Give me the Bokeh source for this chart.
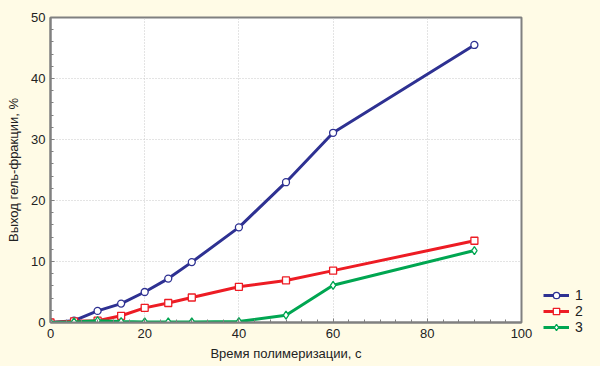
from bokeh.plotting import figure
from bokeh.models import (Range1d, Legend, LegendItem, FixedTicker,
                          GlobalInlineStyleSheet)
from bokeh.embed import file_html
from bokeh.resources import INLINE

# Data
time_s = [0, 5, 10, 15, 20, 25, 30, 40, 50, 60, 90]
yield1 = [0.0, 0.3, 1.9, 3.1, 5.0, 7.2, 9.9, 15.6, 23.0, 31.1, 45.5]
yield2 = [0.0, 0.2, 0.3, 1.1, 2.4, 3.2, 4.1, 5.85, 6.9, 8.5, 13.4]
yield3 = [0.0, 0.1, 0.3, 0.15, 0.1, 0.1, 0.1, 0.15, 1.2, 6.1, 11.8]
series_labels = ["1", "2", "3"]
x_ticks = [0, 20, 40, 60, 80, 100]
y_ticks = [0, 10, 20, 30, 40, 50]
x_minor = [i * 20 / 6 for i in range(31)]
y_minor = list(range(0, 51, 2))

CREAM = "#FFFBE6"
BLUE = "#2E3192"
RED = "#ED1C24"
GREEN = "#00A651"
AXIS = "#808080"
TEXT = "#222222"
FONT = "Liberation Sans"

p = figure(frame_width=471, frame_height=305, output_backend="svg",
           toolbar_location=None,
           x_range=Range1d(0, 100), y_range=Range1d(0, 50),
           min_border_left=50, min_border_right=79, min_border_top=17,
           min_border_bottom=44)
p.border_fill_color = CREAM
p.background_fill_color = "white"
p.outline_line_color = AXIS
p.outline_line_width = 2

for ax, ticks, minor in ((p.xaxis[0], x_ticks, x_minor), (p.yaxis[0], y_ticks, y_minor)):
    ax.ticker = FixedTicker(ticks=ticks, minor_ticks=minor)
    ax.axis_line_color = AXIS
    ax.axis_line_width = 2
    ax.major_tick_in = 4
    ax.major_tick_out = 0
    ax.minor_tick_in = 3
    ax.minor_tick_out = 0
    ax.major_tick_line_color = AXIS
    ax.minor_tick_line_color = AXIS
    ax.major_label_text_font = FONT
    ax.major_label_text_font_size = "13px"
    ax.major_label_text_color = TEXT
    ax.axis_label_text_font = FONT
    ax.axis_label_text_font_size = "13px"
    ax.axis_label_text_font_style = "normal"
    ax.axis_label_text_color = TEXT

p.xaxis[0].axis_label = "Время полимеризации, с"
p.yaxis[0].axis_label = "Выход гель-фракции, %"
p.xaxis[0].major_label_standoff = 6
p.xaxis[0].axis_label_standoff = 5
p.yaxis[0].major_label_standoff = 5
p.yaxis[0].axis_label_standoff = 7

p.xgrid.ticker = FixedTicker(ticks=x_ticks)
p.ygrid.ticker = FixedTicker(ticks=y_ticks)
for g in (p.xgrid[0], p.ygrid[0]):
    g.grid_line_color = "#C8C8C8"
    g.grid_line_dash = "1 2"
    g.grid_line_width = 1

r1 = p.line(time_s, yield1, color=BLUE, line_width=3)
m1 = p.scatter(time_s, yield1, marker="circle", size=7, line_color=BLUE,
               fill_color="white", line_width=1.3)
r2 = p.line(time_s, yield2, color=RED, line_width=3)
m2 = p.scatter(time_s, yield2, marker="square", size=7, line_color=RED,
               fill_color="white", line_width=1.3)
r3 = p.line(time_s, yield3, color=GREEN, line_width=3)
m3 = p.scatter(time_s, yield3, marker="diamond", size=8, line_color=GREEN,
               fill_color="white", line_width=1.3)

legend = Legend(items=[LegendItem(label=series_labels[0], renderers=[r1, m1]),
                       LegendItem(label=series_labels[1], renderers=[r2, m2]),
                       LegendItem(label=series_labels[2], renderers=[r3, m3])],
                location=(22, -13), orientation="vertical",
                background_fill_alpha=0, border_line_color=None,
                label_text_font=FONT, label_text_font_size="14px",
                label_text_color=TEXT, glyph_width=26, glyph_height=16,
                label_height=16, label_width=10, spacing=0, padding=0, margin=0,
                label_standoff=6)
p.add_layout(legend, "right")

p.stylesheets = [GlobalInlineStyleSheet(
    css="html, body {background:%s; margin:0; padding:0;}" % CREAM)]

open("out.html", "w").write(file_html(p, INLINE))
